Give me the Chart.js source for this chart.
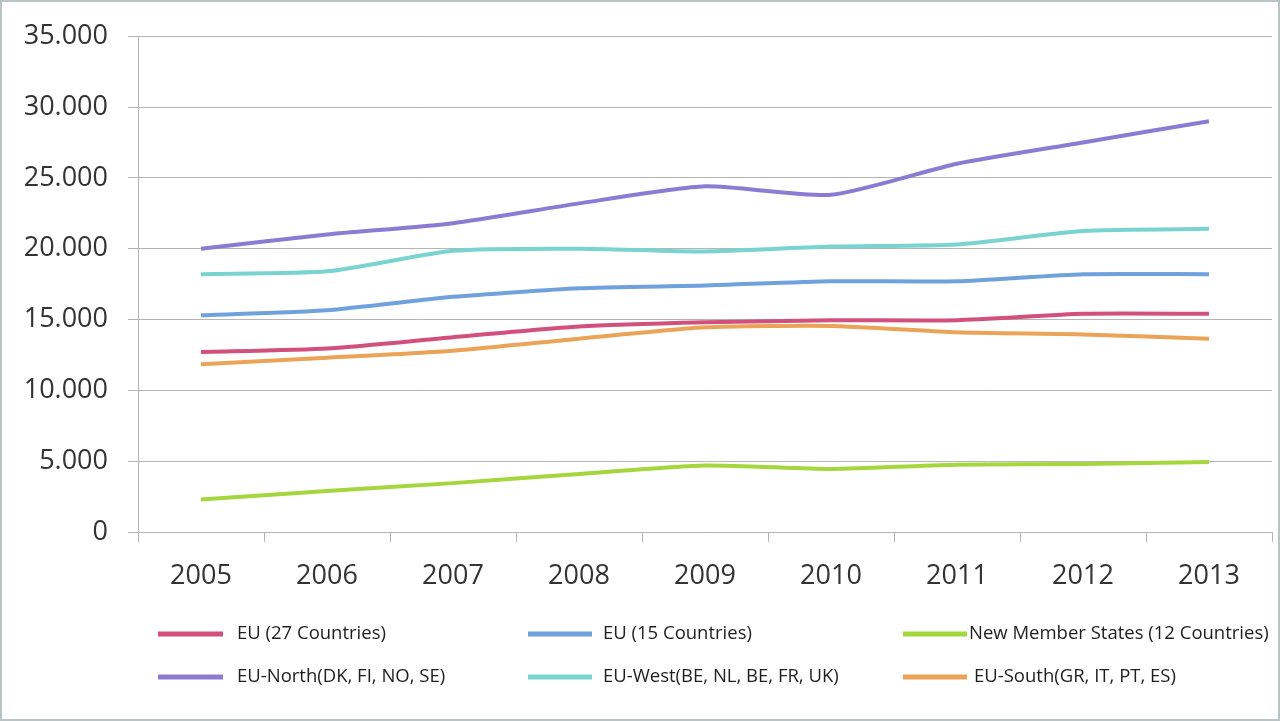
<!DOCTYPE html>
<html>
<head>
<meta charset="utf-8">
<script src="https://cdn.jsdelivr.net/npm/chart.js@4/dist/chart.umd.min.js"></script>
<style>
html,body{margin:0;padding:0;background:#fff;}
#wrap{width:1280px;height:721px;position:relative;}
</style>
</head>
<body>
<div id="wrap"><canvas id="c" width="1280" height="721"></canvas></div>
<script>
const years = ['2005','2006','2007','2008','2009','2010','2011','2012','2013'];
const eu27 = [12700, 12950, 13750, 14500, 14800, 14950, 14950, 15400, 15400];
const eu15 = [15300, 15650, 16600, 17200, 17400, 17700, 17700, 18200, 18200];
const nms12 = [2300, 2900, 3450, 4100, 4700, 4450, 4750, 4800, 4950];
const euNorth = [20000, 21000, 21800, 23200, 24400, 23800, 26000, 27500, 29000];
const euWest = [18200, 18400, 19850, 20000, 19800, 20150, 20300, 21250, 21400];
const euSouth = [11850, 12300, 12800, 13650, 14450, 14550, 14100, 13950, 13650];
const yTicks = [0, 5000, 10000, 15000, 20000, 25000, 30000, 35000];

const seriesNames = ['EU (27 Countries)','EU (15 Countries)','New Member States (12 Countries)','EU-North(DK, FI, NO, SE)','EU-West(BE, NL, BE, FR, UK)','EU-South(GR, IT, PT, ES)'];
const seriesData = [eu27, eu15, nms12, euNorth, euWest, euSouth];
const seriesColors = ['#d2507c','#6fa2dd','#a6d63e','#8b7bd2','#79d3cf','#eba457'];

const legendLayout = [
  {x1:158, x2:223, tx:237, y:634}, {x1:528, x2:592, tx:603, y:634}, {x1:903, x2:967, tx:969, y:634},
  {x1:158, x2:223, tx:237, y:677}, {x1:528, x2:592, tx:603, y:677}, {x1:903, x2:967, tx:974, y:677}
];

const legendPlugin = {
  id: 'customLegend',
  afterDraw(chart) {
    const ctx = chart.ctx;
    ctx.save();
    ctx.font = '18.5px "Open Sans", sans-serif';
    ctx.textBaseline = 'middle';
    ctx.textAlign = 'left';
    chart.data.datasets.forEach((ds, i) => {
      const p = legendLayout[i];
      ctx.strokeStyle = ds.borderColor;
      ctx.lineWidth = 5;
      ctx.lineCap = 'butt';
      ctx.beginPath();
      ctx.moveTo(p.x1, p.y);
      ctx.lineTo(p.x2, p.y);
      ctx.stroke();
      ctx.fillStyle = '#1e1e1e';
      ctx.fillText(ds.label, p.tx, p.y);
    });
    ctx.strokeStyle = '#b9c3c3';
    ctx.lineWidth = 2;
    ctx.strokeRect(1, 1, 1278, 719);
    ctx.restore();
  }
};

new Chart(document.getElementById('c'), {
  type: 'line',
  data: {
    labels: years,
    datasets: seriesData.map((d, i) => ({
      label: seriesNames[i],
      data: d,
      borderColor: seriesColors[i],
      backgroundColor: seriesColors[i],
      borderWidth: 4,
      pointRadius: 0,
      tension: 0.2,
      fill: false
    }))
  },
  options: {
    responsive: false,
    animation: false,
    devicePixelRatio: 1,
    layout: { padding: { top: 35, right: 8, left: 0, bottom: 0 } },
    plugins: { legend: { display: false }, tooltip: { enabled: false } },
    scales: {
      x: {
        offset: true,
        grid: { display: true, drawOnChartArea: false, color: '#b5b5b5', tickLength: 10, offset: true },
        border: { display: true, color: '#b5b5b5' },
        ticks: { color: '#333', font: { family: '"Open Sans", sans-serif', size: 27 }, padding: 18, maxRotation: 0 },
        afterFit(s) { s.height = 189; }
      },
      y: {
        min: 0, max: 35000,
        afterBuildTicks(s) { s.ticks = yTicks.map(v => ({ value: v })); },
        grid: { color: '#b5b5b5', tickLength: 10 },
        border: { display: true, color: '#b5b5b5' },
        ticks: {
          color: '#333',
          font: { family: '"Open Sans", sans-serif', size: 27 },
          padding: 20,
          callback: v => v === 0 ? '0' : (v / 1000).toFixed(0) + '.000'
        },
        afterFit(s) { s.width = 138; }
      }
    }
  },
  plugins: [legendPlugin]
});
</script>
</body>
</html>
